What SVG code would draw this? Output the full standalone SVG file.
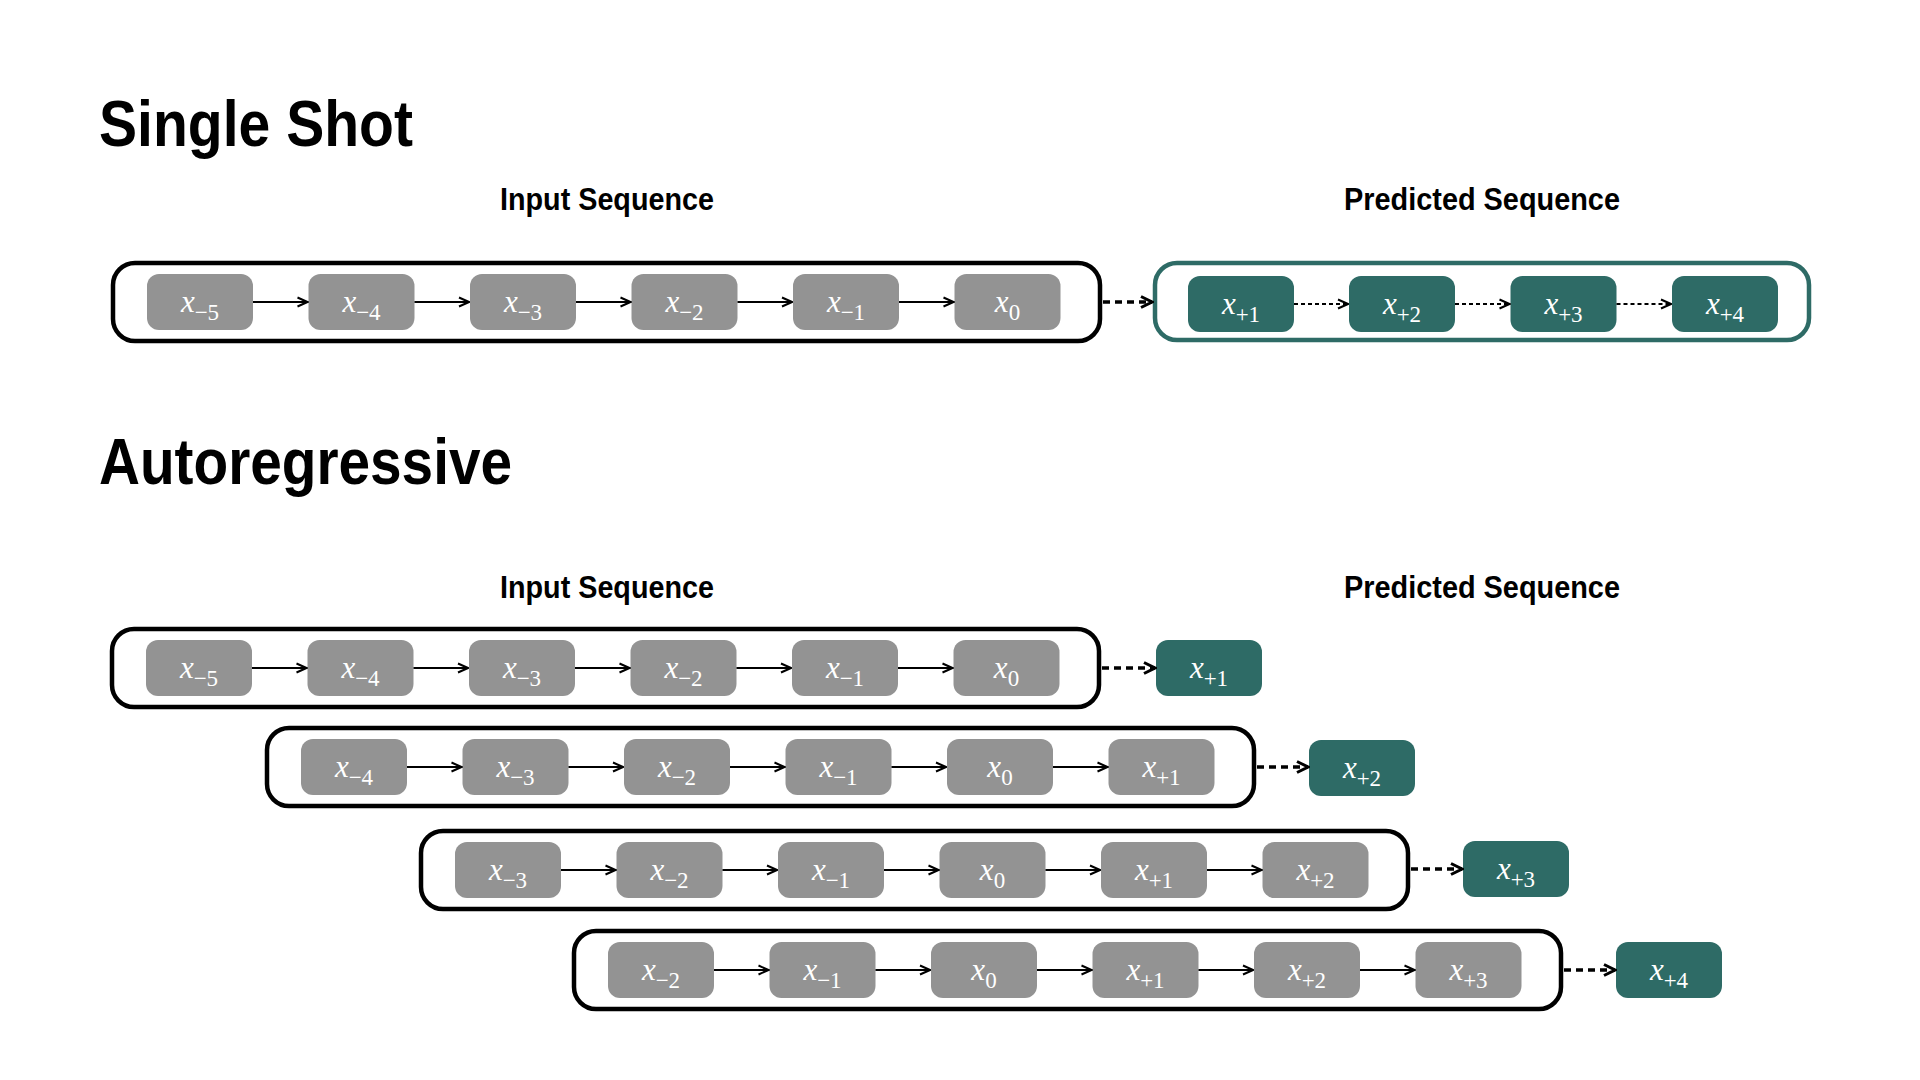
<svg xmlns="http://www.w3.org/2000/svg" width="1920" height="1080" viewBox="0 0 1920 1080">
<defs>
<style>
.title{font-family:"Liberation Sans",Arial,sans-serif;font-weight:bold;font-size:64px;fill:#000}
.sub{font-family:"Liberation Sans",Arial,sans-serif;font-weight:bold;font-size:31px;fill:#000}
.g{fill:#939393}
.t{fill:#2E6B66}
.box{fill:none;stroke:#000;stroke-width:4.5}
.tbox{fill:none;stroke:#2E6B66;stroke-width:4.5}
.lbl{font-family:"Liberation Serif","Times New Roman",serif;fill:#fff;text-anchor:middle}
.v{font-style:italic;font-size:31px}
.s{font-size:23px}
.solid{stroke:#000;stroke-width:1.8;fill:none}
.dot{stroke:#000;stroke-width:2;stroke-dasharray:4 3;fill:none}
.dash{stroke:#000;stroke-width:3.5;stroke-dasharray:7 5;fill:none}
</style>
<marker id="ah" viewBox="0 0 12 12" refX="11" refY="6" markerWidth="12" markerHeight="12" markerUnits="userSpaceOnUse" orient="auto">
<path d="M1,1.5 L11,6 L1,10.5" fill="none" stroke="#000" stroke-width="2"/>
</marker>
<marker id="ahb" viewBox="0 0 14 14" refX="12.5" refY="7" markerWidth="14" markerHeight="14" markerUnits="userSpaceOnUse" orient="auto">
<path d="M1.5,1.5 L12.5,7 L1.5,12.5" fill="none" stroke="#000" stroke-width="3"/>
</marker>
</defs>
<rect width="1920" height="1080" fill="#fff"/>

<text class="title" x="99" y="146" textLength="314" lengthAdjust="spacingAndGlyphs">Single Shot</text>
<text class="title" x="99" y="484" textLength="413" lengthAdjust="spacingAndGlyphs">Autoregressive</text>
<text class="sub" x="500" y="210" textLength="214" lengthAdjust="spacingAndGlyphs">Input Sequence</text>
<text class="sub" x="1344" y="210" textLength="276" lengthAdjust="spacingAndGlyphs">Predicted Sequence</text>
<text class="sub" x="500" y="598" textLength="214" lengthAdjust="spacingAndGlyphs">Input Sequence</text>
<text class="sub" x="1344" y="598" textLength="276" lengthAdjust="spacingAndGlyphs">Predicted Sequence</text>

<!-- Single shot -->
<g id="ss-input-box"><rect class="box" x="113" y="263" width="987" height="78" rx="22"/></g>
<g id="ss-pred-box"><rect class="tbox" x="1155" y="263" width="654" height="77" rx="22"/></g>
<g id="ss-n1"><rect class="g" x="147" y="274" width="106" height="56" rx="12"/><text class="lbl" x="200" y="312"><tspan class="v">x</tspan><tspan class="s" dy="8">−5</tspan></text></g>
<g id="ss-n2"><rect class="g" x="308.5" y="274" width="106" height="56" rx="12"/><text class="lbl" x="361.5" y="312"><tspan class="v">x</tspan><tspan class="s" dy="8">−4</tspan></text></g>
<g id="ss-n3"><rect class="g" x="470" y="274" width="106" height="56" rx="12"/><text class="lbl" x="523" y="312"><tspan class="v">x</tspan><tspan class="s" dy="8">−3</tspan></text></g>
<g id="ss-n4"><rect class="g" x="631.5" y="274" width="106" height="56" rx="12"/><text class="lbl" x="684.5" y="312"><tspan class="v">x</tspan><tspan class="s" dy="8">−2</tspan></text></g>
<g id="ss-n5"><rect class="g" x="793" y="274" width="106" height="56" rx="12"/><text class="lbl" x="846" y="312"><tspan class="v">x</tspan><tspan class="s" dy="8">−1</tspan></text></g>
<g id="ss-n6"><rect class="g" x="954.5" y="274" width="106" height="56" rx="12"/><text class="lbl" x="1007.5" y="312"><tspan class="v">x</tspan><tspan class="s" dy="8">0</tspan></text></g>
<g id="ss-p1"><rect class="t" x="1188" y="276" width="106" height="56" rx="12"/><text class="lbl" x="1241" y="314"><tspan class="v">x</tspan><tspan class="s" dy="8">+1</tspan></text></g>
<g id="ss-p2"><rect class="t" x="1349" y="276" width="106" height="56" rx="12"/><text class="lbl" x="1402" y="314"><tspan class="v">x</tspan><tspan class="s" dy="8">+2</tspan></text></g>
<g id="ss-p3"><rect class="t" x="1510.5" y="276" width="106" height="56" rx="12"/><text class="lbl" x="1563.5" y="314"><tspan class="v">x</tspan><tspan class="s" dy="8">+3</tspan></text></g>
<g id="ss-p4"><rect class="t" x="1672" y="276" width="106" height="56" rx="12"/><text class="lbl" x="1725" y="314"><tspan class="v">x</tspan><tspan class="s" dy="8">+4</tspan></text></g>

<!-- Autoregressive row 1 -->
<g id="r1-box"><rect class="box" x="112" y="629" width="987" height="78" rx="22"/></g>
<g id="r1-n1"><rect class="g" x="146" y="640" width="106" height="56" rx="12"/><text class="lbl" x="199" y="678"><tspan class="v">x</tspan><tspan class="s" dy="8">−5</tspan></text></g>
<g id="r1-n2"><rect class="g" x="307.5" y="640" width="106" height="56" rx="12"/><text class="lbl" x="360.5" y="678"><tspan class="v">x</tspan><tspan class="s" dy="8">−4</tspan></text></g>
<g id="r1-n3"><rect class="g" x="469" y="640" width="106" height="56" rx="12"/><text class="lbl" x="522" y="678"><tspan class="v">x</tspan><tspan class="s" dy="8">−3</tspan></text></g>
<g id="r1-n4"><rect class="g" x="630.5" y="640" width="106" height="56" rx="12"/><text class="lbl" x="683.5" y="678"><tspan class="v">x</tspan><tspan class="s" dy="8">−2</tspan></text></g>
<g id="r1-n5"><rect class="g" x="792" y="640" width="106" height="56" rx="12"/><text class="lbl" x="845" y="678"><tspan class="v">x</tspan><tspan class="s" dy="8">−1</tspan></text></g>
<g id="r1-n6"><rect class="g" x="953.5" y="640" width="106" height="56" rx="12"/><text class="lbl" x="1006.5" y="678"><tspan class="v">x</tspan><tspan class="s" dy="8">0</tspan></text></g>
<g id="r1-p"><rect class="t" x="1156" y="640" width="106" height="56" rx="12"/><text class="lbl" x="1209" y="678"><tspan class="v">x</tspan><tspan class="s" dy="8">+1</tspan></text></g>

<!-- row 2 -->
<g id="r2-box"><rect class="box" x="267" y="728" width="987" height="78" rx="22"/></g>
<g id="r2-n1"><rect class="g" x="301" y="739" width="106" height="56" rx="12"/><text class="lbl" x="354" y="777"><tspan class="v">x</tspan><tspan class="s" dy="8">−4</tspan></text></g>
<g id="r2-n2"><rect class="g" x="462.5" y="739" width="106" height="56" rx="12"/><text class="lbl" x="515.5" y="777"><tspan class="v">x</tspan><tspan class="s" dy="8">−3</tspan></text></g>
<g id="r2-n3"><rect class="g" x="624" y="739" width="106" height="56" rx="12"/><text class="lbl" x="677" y="777"><tspan class="v">x</tspan><tspan class="s" dy="8">−2</tspan></text></g>
<g id="r2-n4"><rect class="g" x="785.5" y="739" width="106" height="56" rx="12"/><text class="lbl" x="838.5" y="777"><tspan class="v">x</tspan><tspan class="s" dy="8">−1</tspan></text></g>
<g id="r2-n5"><rect class="g" x="947" y="739" width="106" height="56" rx="12"/><text class="lbl" x="1000" y="777"><tspan class="v">x</tspan><tspan class="s" dy="8">0</tspan></text></g>
<g id="r2-n6"><rect class="g" x="1108.5" y="739" width="106" height="56" rx="12"/><text class="lbl" x="1161.5" y="777"><tspan class="v">x</tspan><tspan class="s" dy="8">+1</tspan></text></g>
<g id="r2-p"><rect class="t" x="1309" y="740" width="106" height="56" rx="12"/><text class="lbl" x="1362" y="778"><tspan class="v">x</tspan><tspan class="s" dy="8">+2</tspan></text></g>

<!-- row 3 -->
<g id="r3-box"><rect class="box" x="421" y="831" width="987" height="78" rx="22"/></g>
<g id="r3-n1"><rect class="g" x="455" y="842" width="106" height="56" rx="12"/><text class="lbl" x="508" y="880"><tspan class="v">x</tspan><tspan class="s" dy="8">−3</tspan></text></g>
<g id="r3-n2"><rect class="g" x="616.5" y="842" width="106" height="56" rx="12"/><text class="lbl" x="669.5" y="880"><tspan class="v">x</tspan><tspan class="s" dy="8">−2</tspan></text></g>
<g id="r3-n3"><rect class="g" x="778" y="842" width="106" height="56" rx="12"/><text class="lbl" x="831" y="880"><tspan class="v">x</tspan><tspan class="s" dy="8">−1</tspan></text></g>
<g id="r3-n4"><rect class="g" x="939.5" y="842" width="106" height="56" rx="12"/><text class="lbl" x="992.5" y="880"><tspan class="v">x</tspan><tspan class="s" dy="8">0</tspan></text></g>
<g id="r3-n5"><rect class="g" x="1101" y="842" width="106" height="56" rx="12"/><text class="lbl" x="1154" y="880"><tspan class="v">x</tspan><tspan class="s" dy="8">+1</tspan></text></g>
<g id="r3-n6"><rect class="g" x="1262.5" y="842" width="106" height="56" rx="12"/><text class="lbl" x="1315.5" y="880"><tspan class="v">x</tspan><tspan class="s" dy="8">+2</tspan></text></g>
<g id="r3-p"><rect class="t" x="1463" y="841" width="106" height="56" rx="12"/><text class="lbl" x="1516" y="879"><tspan class="v">x</tspan><tspan class="s" dy="8">+3</tspan></text></g>

<!-- row 4 -->
<g id="r4-box"><rect class="box" x="574" y="931" width="987" height="78" rx="22"/></g>
<g id="r4-n1"><rect class="g" x="608" y="942" width="106" height="56" rx="12"/><text class="lbl" x="661" y="980"><tspan class="v">x</tspan><tspan class="s" dy="8">−2</tspan></text></g>
<g id="r4-n2"><rect class="g" x="769.5" y="942" width="106" height="56" rx="12"/><text class="lbl" x="822.5" y="980"><tspan class="v">x</tspan><tspan class="s" dy="8">−1</tspan></text></g>
<g id="r4-n3"><rect class="g" x="931" y="942" width="106" height="56" rx="12"/><text class="lbl" x="984" y="980"><tspan class="v">x</tspan><tspan class="s" dy="8">0</tspan></text></g>
<g id="r4-n4"><rect class="g" x="1092.5" y="942" width="106" height="56" rx="12"/><text class="lbl" x="1145.5" y="980"><tspan class="v">x</tspan><tspan class="s" dy="8">+1</tspan></text></g>
<g id="r4-n5"><rect class="g" x="1254" y="942" width="106" height="56" rx="12"/><text class="lbl" x="1307" y="980"><tspan class="v">x</tspan><tspan class="s" dy="8">+2</tspan></text></g>
<g id="r4-n6"><rect class="g" x="1415.5" y="942" width="106" height="56" rx="12"/><text class="lbl" x="1468.5" y="980"><tspan class="v">x</tspan><tspan class="s" dy="8">+3</tspan></text></g>
<g id="r4-p"><rect class="t" x="1616" y="942" width="106" height="56" rx="12"/><text class="lbl" x="1669" y="980"><tspan class="v">x</tspan><tspan class="s" dy="8">+4</tspan></text></g>

<g id="connectors">
<!-- single shot -->
<line class="solid" x1="253" y1="302" x2="307.5" y2="302" marker-end="url(#ah)"/>
<line class="solid" x1="414.5" y1="302" x2="469" y2="302" marker-end="url(#ah)"/>
<line class="solid" x1="576" y1="302" x2="630.5" y2="302" marker-end="url(#ah)"/>
<line class="solid" x1="737.5" y1="302" x2="792" y2="302" marker-end="url(#ah)"/>
<line class="solid" x1="899" y1="302" x2="953.5" y2="302" marker-end="url(#ah)"/>
<line class="dash" x1="1103" y1="302" x2="1152" y2="302" marker-end="url(#ahb)"/>
<line class="dot" x1="1294" y1="304" x2="1348" y2="304" marker-end="url(#ah)"/>
<line class="dot" x1="1455" y1="304" x2="1509.5" y2="304" marker-end="url(#ah)"/>
<line class="dot" x1="1616.5" y1="304" x2="1671" y2="304" marker-end="url(#ah)"/>
<!-- row 1 -->
<line class="solid" x1="252" y1="668" x2="306.5" y2="668" marker-end="url(#ah)"/>
<line class="solid" x1="413.5" y1="668" x2="468" y2="668" marker-end="url(#ah)"/>
<line class="solid" x1="575" y1="668" x2="629.5" y2="668" marker-end="url(#ah)"/>
<line class="solid" x1="736.5" y1="668" x2="791" y2="668" marker-end="url(#ah)"/>
<line class="solid" x1="898" y1="668" x2="952.5" y2="668" marker-end="url(#ah)"/>
<line class="dash" x1="1102" y1="668" x2="1155" y2="668" marker-end="url(#ahb)"/>
<!-- row 2 -->
<line class="solid" x1="407" y1="767" x2="461.5" y2="767" marker-end="url(#ah)"/>
<line class="solid" x1="568.5" y1="767" x2="623" y2="767" marker-end="url(#ah)"/>
<line class="solid" x1="730" y1="767" x2="784.5" y2="767" marker-end="url(#ah)"/>
<line class="solid" x1="891.5" y1="767" x2="946" y2="767" marker-end="url(#ah)"/>
<line class="solid" x1="1053" y1="767" x2="1107.5" y2="767" marker-end="url(#ah)"/>
<line class="dash" x1="1257" y1="767" x2="1308" y2="767" marker-end="url(#ahb)"/>
<!-- row 3 -->
<line class="solid" x1="561" y1="870" x2="615.5" y2="870" marker-end="url(#ah)"/>
<line class="solid" x1="722.5" y1="870" x2="777" y2="870" marker-end="url(#ah)"/>
<line class="solid" x1="884" y1="870" x2="938.5" y2="870" marker-end="url(#ah)"/>
<line class="solid" x1="1045.5" y1="870" x2="1100" y2="870" marker-end="url(#ah)"/>
<line class="solid" x1="1207" y1="870" x2="1261.5" y2="870" marker-end="url(#ah)"/>
<line class="dash" x1="1411" y1="869" x2="1462" y2="869" marker-end="url(#ahb)"/>
<!-- row 4 -->
<line class="solid" x1="714" y1="970" x2="768.5" y2="970" marker-end="url(#ah)"/>
<line class="solid" x1="875.5" y1="970" x2="930" y2="970" marker-end="url(#ah)"/>
<line class="solid" x1="1037" y1="970" x2="1091.5" y2="970" marker-end="url(#ah)"/>
<line class="solid" x1="1198.5" y1="970" x2="1253" y2="970" marker-end="url(#ah)"/>
<line class="solid" x1="1360" y1="970" x2="1414.5" y2="970" marker-end="url(#ah)"/>
<line class="dash" x1="1564" y1="970" x2="1615" y2="970" marker-end="url(#ahb)"/>
</g>
</svg>
